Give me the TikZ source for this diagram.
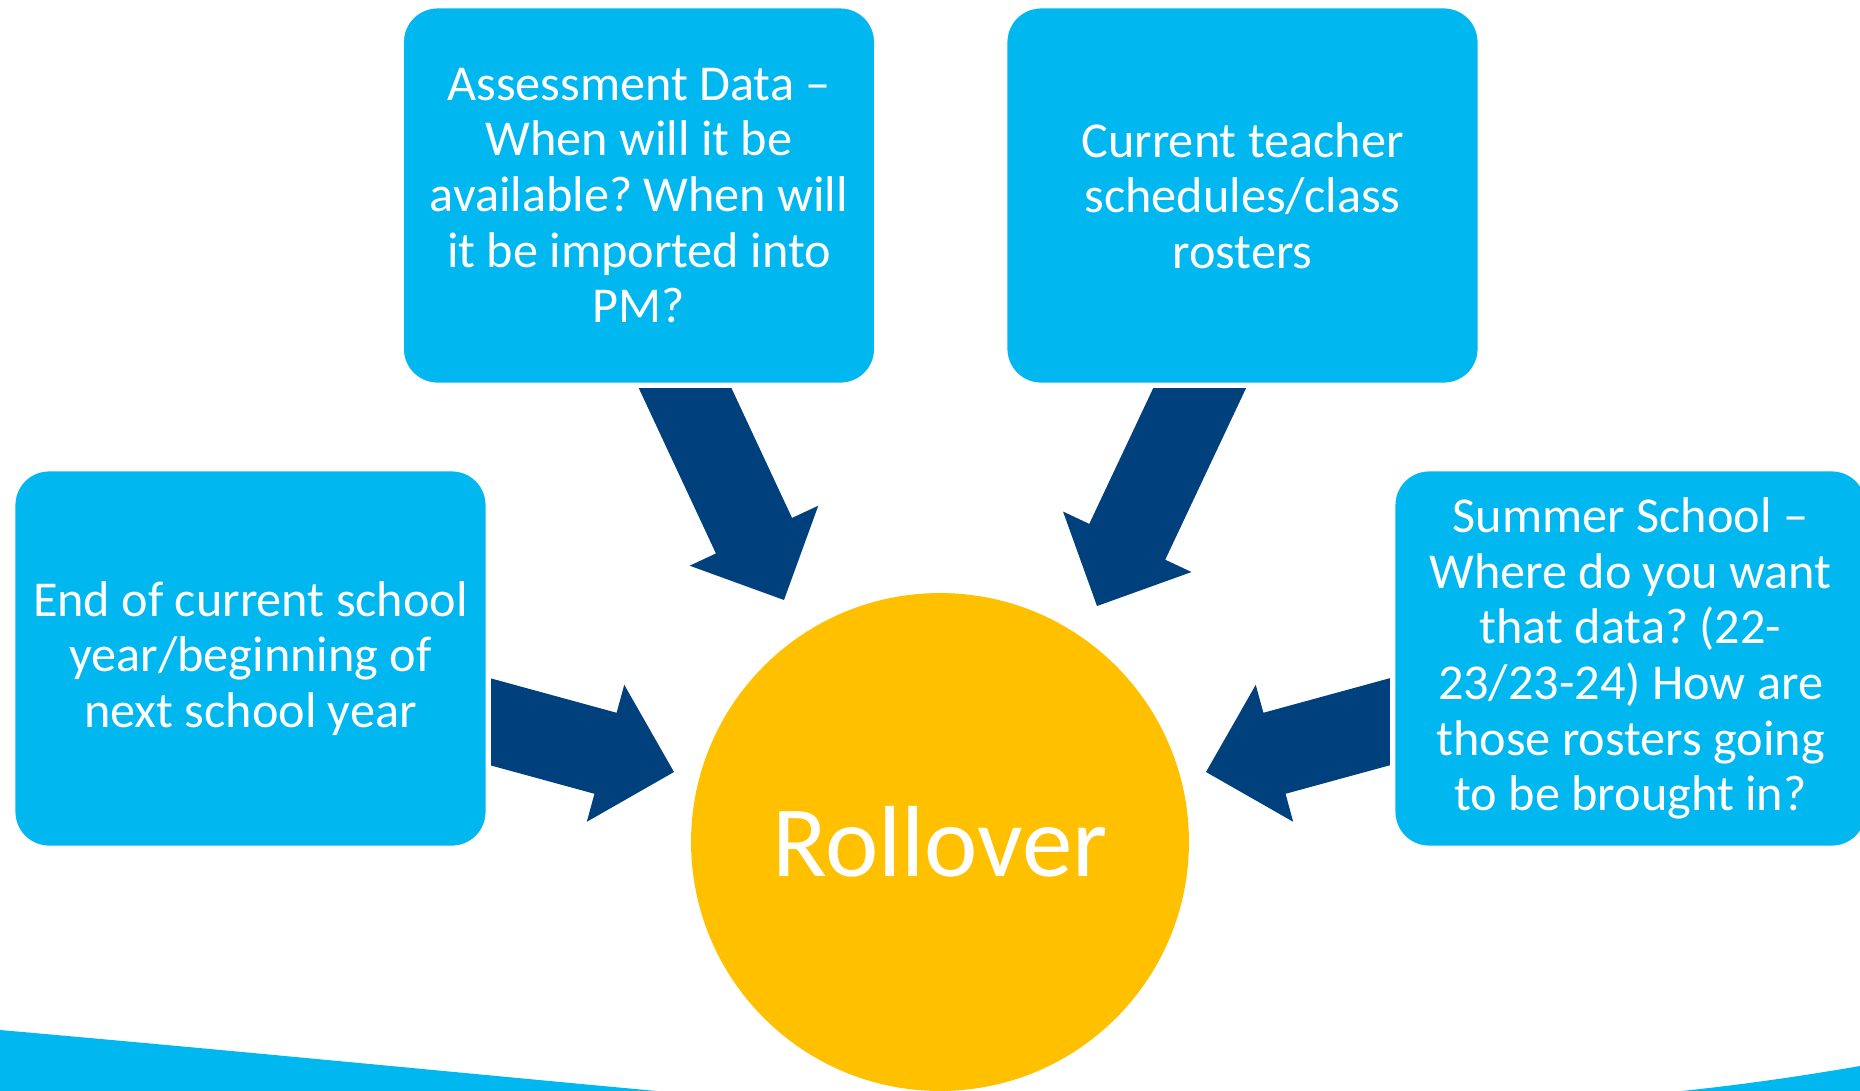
\documentclass[tikz,border=0pt]{standalone}
\usepackage{fontspec}
\setmainfont{Carlito}
\frenchspacing
\usetikzlibrary{calc,shapes.geometric}

\definecolor{boxcyan}{RGB}{0,183,239}
\definecolor{hubgold}{RGB}{255,192,0}
\definecolor{navy}{RGB}{0,64,125}

% Block arrow from a tail coordinate to a tip coordinate
\newcommand{\blockarrow}[2]{%
  \coordinate (hb) at ($(#2)!1.42cm!(#1)$);
  \fill[flow] ($(#1)!0.84cm!-90:(#2)$) -- ($(hb)!0.84cm!90:(#1)$)
    -- ($(hb)!1.42cm!90:(#1)$) -- (#2) -- ($(hb)!1.42cm!-90:(#1)$)
    -- ($(hb)!0.84cm!-90:(#1)$) -- ($(#1)!0.84cm!90:(#2)$) -- cycle;
}

\begin{document}
\begin{tikzpicture}[%
    x=0.02cm, y=-0.02cm,   % one unit is one pixel of the slide, y runs down
    ]
% -------------------------------------------------
% Styles
\tikzset{
  base/.style={draw=white, line width=3pt, text=white, align=center},
  topic/.style={base, rectangle, fill=boxcyan, rounded corners=0.72cm,
    minimum width=9.51cm, minimum height=7.59cm,
    font=\fontsize{28.6}{31.7}\selectfont},
  hub/.style={circle, fill=hubgold, text=white, inner sep=0pt,
    minimum size=9.96cm, font=\fontsize{57.5}{60}\selectfont},
  flow/.style={fill=navy},
  band/.style={fill=boxcyan},
}
\clip (0,0) rectangle (1860,1090);

% Bottom band
\fill[band] (0,1030) .. controls (250,1052) and (450,1072) .. (700,1095) -- (0,1095) -- cycle;
\fill[band] (1860,1066) .. controls (1790,1078) and (1720,1088) .. (1640,1095) -- (1860,1095) -- cycle;

% -------------------------------------------------
% Invisible arrow ends
\coordinate (tailA) at (658,330);
\coordinate (tipA) at (784,600);
\coordinate (tailB) at (1227,330);
\coordinate (tipB) at (1097,606);
\coordinate (tailC) at (440,708);
\coordinate (tipC) at (674,772);
\coordinate (tailD) at (1440,708);
\coordinate (tipD) at (1206,772);

% Arrows (under the boxes)
\blockarrow{tailA}{tipA}
\blockarrow{tailB}{tipB}
\blockarrow{tailC}{tipC}
\blockarrow{tailD}{tipD}

% -------------------------------------------------
% Place the nodes
\node [hub] (rollover) at (940,842) {Rollover};

\node [topic] (assess) at (639,195.5) {Assessment Data –\\When will it be\\available? When will\\it be imported into\\PM?};
\node [topic] (teacher) at (1242.5,195.5) {Current teacher\\schedules/class\\rosters};
\node [topic] (yearend) at (250.5,658.5) {End of current school\\year/beginning of\\next school year};
\node [topic] (summer) at (1630.5,658.5) {Summer School –\\Where do you want\\that data? (22-\\23/23-24) How are\\those rosters going\\to be brought in?};

\end{tikzpicture}
\end{document}
